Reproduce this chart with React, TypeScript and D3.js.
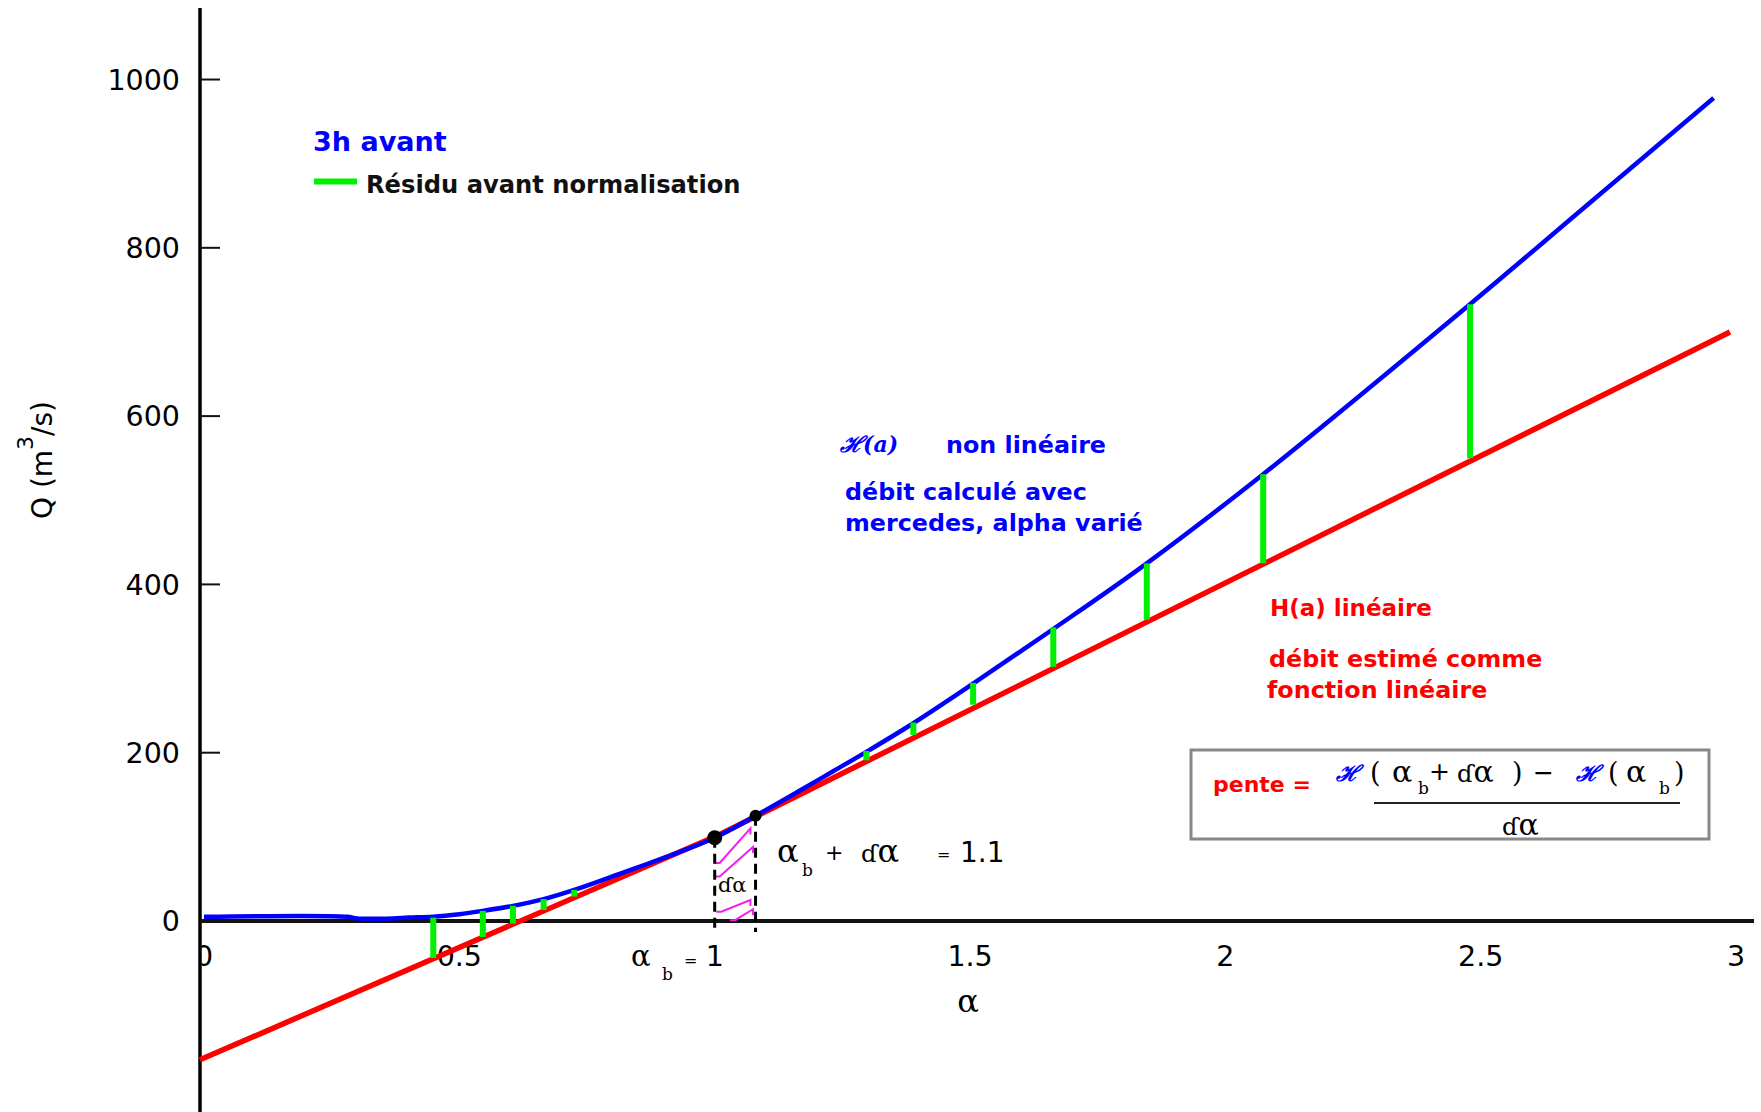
import React from 'react';
import * as d3 from 'd3';

const W = 1761;
const H = 1112;

// ---- data ----
const blueAlpha = [0, 0.28, 0.3, 0.37, 0.4, 0.449, 0.5, 0.546, 0.605, 0.665, 0.725, 0.8, 0.9, 1.0, 1.08, 1.167, 1.232, 1.297, 1.389, 1.506, 1.663, 1.846, 2.074, 2.479, 2.701, 2.956];
const blueQ = [5, 5, 3, 3, 4, 5, 8, 12, 18, 26, 37, 53, 75, 99, 125, 155, 178, 201, 235, 282, 347, 425, 531, 733, 847, 978];
const redAlpha = [-0.008, 1.0, 2.988];
const redQ = [-165, 100, 700];
const residAlpha = [0.449, 0.546, 0.605, 0.665, 0.725, 1.297, 1.389, 1.506, 1.663, 1.846, 2.074, 2.479];
const residTop = [4, 12, 18, 26, 37, 202, 236, 283, 349, 425, 531, 733];
const residBottom = [-44, -19, -3, 13, 29, 191, 221, 257, 302, 358, 425, 550];
const yTicks = [0, 200, 400, 600, 800, 1000];
const xTicks = [0, 0.5, 1.5, 2, 2.5, 3];
const xTickLabels = ['0', '0.5', '1.5', '2', '2.5', '3'];
const markAlpha = [1.0, 1.08];
const markQ = [99, 125];
const markR = [7.5, 6];
const hatch = [
  [1.0, 69, 1.07, 110],
  [1.0, 53, 1.075, 88],
  [1.003, 11, 1.07, 25],
  [1.03, 1, 1.075, 14],
];

const SANS = "'DejaVu Sans', Verdana, sans-serif";
const SERIF = "'DejaVu Serif', 'Liberation Serif', serif";
const BLUE = '#0000ff';
const RED = '#ff0000';
const GREEN = '#00f000';
const MAGENTA = '#f020f0';

export default function App() {
  const x = d3.scaleLinear().domain([-0.0078, 3.035]).range([200, 1754]);
  const y = d3.scaleLinear().domain([-227, 1085]).range([1112, 8]);

  const blueData: [number, number][] = blueAlpha.map((a, i) => [a, blueQ[i]]);
  const redData: [number, number][] = redAlpha.map((a, i) => [a, redQ[i]]);
  const bluePath =
    d3
      .line<[number, number]>()
      .x((d) => x(d[0]))
      .y((d) => y(d[1]))
      .curve(d3.curveCatmullRom.alpha(0.5))(blueData) || '';
  const redPath =
    d3
      .line<[number, number]>()
      .x((d) => x(d[0]))
      .y((d) => y(d[1]))(redData) || '';

  const x0 = x.range()[0];
  const y0 = y(0);

  return (
    <svg
      width={W}
      height={H}
      viewBox={`0 0 ${W} ${H}`}
      style={{ position: 'absolute', left: 0, top: 0, display: 'block', background: '#fff' }}
    >
      <defs>
        <clipPath id="rightOfAxis">
          <rect x={x0 + 1.5} y={0} width={W} height={H} />
        </clipPath>
      </defs>
      <rect x={0} y={0} width={W} height={H} fill="#fff" />

      {/* y axis */}
      <line x1={x0} x2={x0} y1={y.range()[1]} y2={y.range()[0]} stroke="#000" strokeWidth={3.5} />
      {yTicks.map((t) => (
        <g key={'yt' + t}>
          <line x1={x0} x2={x0 + 20} y1={y(t)} y2={y(t)} stroke="#111" strokeWidth={2} />
          <text
            x={180}
            y={y(t)}
            dy="0.36em"
            textAnchor="end"
            fontFamily={SANS}
            fontSize={28.5}
            fill="#000"
          >
            {t}
          </text>
        </g>
      ))}

      {/* x axis */}
      <line x1={x0} x2={x.range()[1]} y1={y0} y2={y0} stroke="#111" strokeWidth={4} />
      <g clipPath="url(#rightOfAxis)">
        {xTicks.map((t, i) => (
          <text
            key={'xt' + t}
            x={x(t)}
            y={966}
            textAnchor="middle"
            fontFamily={SANS}
            fontSize={28.5}
            fill="#000"
          >
            {xTickLabels[i]}
          </text>
        ))}
      </g>

      {/* axis titles */}
      <text x={968} y={1012} textAnchor="middle" fontFamily={SERIF} fontSize={32} fill="#000">
        α
      </text>
      <text
        transform="translate(52,460) rotate(-90)"
        textAnchor="middle"
        fontFamily={SANS}
        fontSize={28}
        fill="#000"
      >
        Q (m
        <tspan dy={-19} fontSize={22}>3</tspan>
        <tspan dy={19}>/s)</tspan>
      </text>

      {/* red linear function */}
      <path d={redPath} fill="none" stroke={RED} strokeWidth={5.5} />
      {/* blue non-linear */}
      <path d={bluePath} fill="none" stroke={BLUE} strokeWidth={4.5} strokeLinejoin="round" />

      {/* residuals */}
      {residAlpha.map((a, i) => (
        <line
          key={'r' + i}
          x1={x(a)}
          x2={x(a)}
          y1={y(residTop[i])}
          y2={y(residBottom[i])}
          stroke={GREEN}
          strokeWidth={6}
        />
      ))}

      {/* hatch of dα */}
      {hatch.map((h, i) => {
        const ax = x(h[0]);
        const ay = y(h[1]);
        const bx = x(h[2]);
        const by = y(h[3]);
        return (
          <path
            key={'h' + i}
            d={`M${ax},${ay} L${ax + 5},${ay} L${bx},${by} L${bx},${by + 6}`}
            fill="none"
            stroke={MAGENTA}
            strokeWidth={2}
          />
        );
      })}

      {/* dashed markers */}
      {markAlpha.map((a, i) => (
        <line
          key={'d' + i}
          x1={x(a)}
          x2={x(a)}
          y1={y(markQ[i])}
          y2={y0 + 11}
          stroke="#000"
          strokeWidth={3}
          strokeDasharray="10,6"
        />
      ))}
      {markAlpha.map((a, i) => (
        <circle key={'c' + i} cx={x(a)} cy={y(markQ[i])} r={markR[i]} fill="#000" />
      ))}
      <text x={718} y={892} fontFamily={SERIF} fontSize={21} fill="#000">
        ɗα
      </text>

      {/* α_b = 1 */}
      <text x={631} y={966} fontFamily={SERIF} fontSize={29} fill="#000">α</text>
      <text x={662} y={980} fontFamily={SERIF} fontSize={17} fill="#000">b</text>
      <text x={684} y={966} fontFamily={SANS} fontSize={16} fill="#000">=</text>
      <text x={x(1)} y={966} textAnchor="middle" fontFamily={SANS} fontSize={28.5} fill="#000">1</text>

      {/* α_b + dα = 1.1 */}
      <text x={777} y={862} fontFamily={SERIF} fontSize={32} fill="#000">α</text>
      <text x={802} y={876} fontFamily={SERIF} fontSize={17} fill="#000">b</text>
      <text x={825} y={860} fontFamily={SANS} fontSize={22} fill="#000">+</text>
      <text x={861} y={862} fontFamily={SERIF} fontSize={24} fill="#000">
        ɗ<tspan fontSize={32}>α</tspan>
      </text>
      <text x={937} y={860} fontFamily={SANS} fontSize={16} fill="#000">=</text>
      <text x={960} y={862} fontFamily={SANS} fontSize={28} fill="#000">1.1</text>

      {/* legend */}
      <text x={313} y={151} fontFamily={SANS} fontWeight="bold" fontSize={27} fill={BLUE}>
        3h avant
      </text>
      <line x1={314} x2={357} y1={181.5} y2={181.5} stroke={GREEN} strokeWidth={6} />
      <text x={366} y={193} fontFamily={SANS} fontWeight="bold" fontSize={24.2} fill="#111">
        Résidu avant normalisation
      </text>

      {/* blue annotations */}
      <text x={840} y={452} fontFamily={SERIF} fontStyle="italic" fontWeight="bold" fontSize={22} fill={BLUE}>
        ℋ(a)
      </text>
      <text x={946} y={453} fontFamily={SANS} fontWeight="bold" fontSize={23.8} fill={BLUE}>
        non linéaire
      </text>
      <text x={845} y={500} fontFamily={SANS} fontWeight="bold" fontSize={23.8} fill={BLUE}>
        débit calculé avec
      </text>
      <text x={845} y={531} fontFamily={SANS} fontWeight="bold" fontSize={23.8} fill={BLUE}>
        mercedes, alpha varié
      </text>

      {/* red annotations */}
      <text x={1270} y={616} fontFamily={SANS} fontWeight="bold" fontSize={23} fill={RED}>
        H(a) linéaire
      </text>
      <text x={1269} y={667} fontFamily={SANS} fontWeight="bold" fontSize={23.8} fill={RED}>
        débit estimé comme
      </text>
      <text x={1267} y={698} fontFamily={SANS} fontWeight="bold" fontSize={23.8} fill={RED}>
        fonction linéaire
      </text>

      {/* formula box */}
      <rect x={1191} y={750} width={518} height={89} fill="#fff" stroke="#888" strokeWidth={3} />
      <text x={1213} y={792} fontFamily={SANS} fontWeight="bold" fontSize={22} fill={RED}>
        pente =
      </text>
      <text x={1336} y={781} fontFamily={SERIF} fontStyle="italic" fontWeight="bold" fontSize={22} fill={BLUE}>ℋ</text>
      <text x={1370} y={782} fontFamily={SERIF} fontSize={27} fill="#000">(</text>
      <text x={1392} y={782} fontFamily={SERIF} fontSize={30} fill="#000">α</text>
      <text x={1418} y={794} fontFamily={SERIF} fontSize={17} fill="#000">b</text>
      <text x={1429} y={780} fontFamily={SANS} fontSize={25} fill="#000">+</text>
      <text x={1457} y={782} fontFamily={SERIF} fontSize={24} fill="#000">
        ɗ<tspan fontSize={30}>α</tspan>
      </text>
      <text x={1512} y={782} fontFamily={SERIF} fontSize={27} fill="#000">)</text>
      <text x={1533} y={781} fontFamily={SANS} fontSize={25} fill="#000">−</text>
      <text x={1576} y={781} fontFamily={SERIF} fontStyle="italic" fontWeight="bold" fontSize={22} fill={BLUE}>ℋ</text>
      <text x={1608} y={782} fontFamily={SERIF} fontSize={27} fill="#000">(</text>
      <text x={1626} y={782} fontFamily={SERIF} fontSize={30} fill="#000">α</text>
      <text x={1659} y={794} fontFamily={SERIF} fontSize={17} fill="#000">b</text>
      <text x={1674} y={782} fontFamily={SERIF} fontSize={27} fill="#000">)</text>
      <line x1={1374} x2={1680} y1={803} y2={803} stroke="#222" strokeWidth={2} />
      <text x={1502} y={835} fontFamily={SERIF} fontSize={24} fill="#000">
        ɗ<tspan fontSize={30}>α</tspan>
      </text>
    </svg>
  );
}
